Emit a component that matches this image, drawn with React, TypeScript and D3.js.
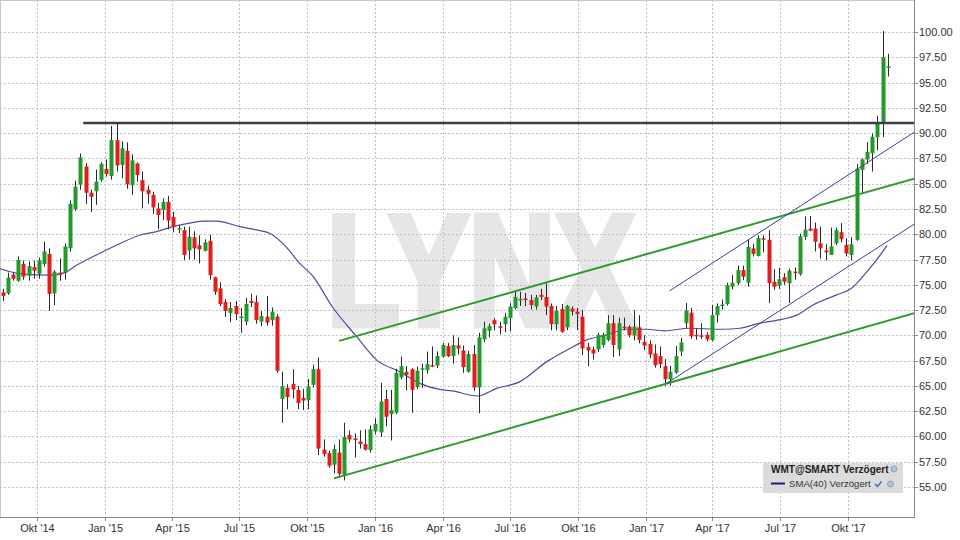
import React from 'react';
import * as d3 from 'd3';

// ---- DATA (weekly candles, Fridays from 2014-08-15) ----
const firstWeek = '2014-08-15';
const lastWeek = '2017-11-24';

const openV = [74.25,74.15,76.0,75.4,77.05,75.9,76.75,76.1,77.05,78.05,
74.15,76.2,76.2,78.6,82.5,84.9,86.7,84.1,84.25,85.35,
86.45,85.75,89.3,86.85,88.25,84.85,87.0,85.35,84.4,83.9,
82.55,82.4,83.2,81.7,80.5,80.4,78.4,79.7,78.9,78.35,
79.35,75.75,74.65,73.3,72.2,72.9,
71.75,71.35,73.4,73.3,71.35,71.85,71.5,71.85,63.7,64.8,
65.2,64.6,63.8,63.6,65.1,66.65,58.7,58.35,57.2,58.4,
56.2,60.15,59.8,59.5,59.25,58.65,60.5,60.4,63.7,62.2,
62.35,65.85,66.4,66.65,64.9,
66.6,66.55,67.05,67.0,67.9,68.95,67.95,69.0,68.5,66.4,
68.15,64.85,69.6,70.45,71.5,70.9,71.1,71.7,72.7,73.5,
73.65,73.5,72.85,74.0,73.8,72.9,71.1,72.6,70.8,72.65,
72.35,71.85,68.85,68.6,68.6,69.05,69.55,71.2,68.6,70.85,
70.85,70.0,70.8,
69.35,69.15,68.2,67.95,66.95,65.65,66.3,68.4,71.2,72.25,
70.05,70.0,70.05,69.55,72.0,72.95,73.1,74.8,75.15,76.45,
75.2,78.6,77.85,79.6,79.45,75.3,74.9,75.75,75.15,76.3,
76.05,79.75,80.55,80.55,79.1,78.4,77.95,79.1,80.2,78.95,
77.95,79.45,86.35,87.4,88.0,89.6,91.0,96.5];

const highV = [74.6,76.2,76.2,77.8,77.4,77.3,77.4,77.7,79.25,78.6,
76.45,77.6,79.1,83.35,85.3,88.0,87.05,84.4,86.4,87.1,
87.4,90.7,91.0,89.2,89.1,87.9,87.1,86.2,84.8,84.2,
83.1,83.55,83.8,82.2,80.9,80.75,80.75,80.3,79.9,79.5,
79.95,75.8,75.25,73.6,73.3,73.4,
72.7,73.7,74.1,73.95,72.4,73.9,72.75,72.1,66.4,65.15,
66.65,65.0,64.7,65.7,67.1,67.8,59.7,58.6,59.2,59.7,
61.35,60.6,60.3,60.6,60.7,61.1,61.8,65.3,64.6,64.6,
66.7,67.9,66.95,66.75,66.9,
67.2,68.4,68.9,68.4,69.25,69.25,70.0,69.8,69.0,68.45,
69.05,70.25,71.35,71.15,71.7,71.35,72.2,73.2,74.4,74.3,
74.2,74.0,74.0,74.6,75.15,73.15,72.9,73.1,73.0,72.85,
72.7,72.5,69.25,68.9,70.25,70.25,72.0,72.0,71.75,71.75,
71.0,72.5,72.0,
70.0,69.5,69.1,68.9,67.65,67.0,68.95,69.75,73.2,72.7,
70.65,71.2,70.3,73.0,73.15,73.55,75.2,75.95,76.9,76.9,
79.45,79.05,79.9,79.9,80.4,76.55,76.7,76.15,76.6,76.7,
80.05,81.75,81.8,81.15,80.75,79.0,80.65,80.65,81.1,79.6,
79.7,86.95,87.5,89.1,89.95,91.7,100.1,97.85];

const lowV = [73.4,74.0,75.4,75.3,75.5,75.4,75.6,75.6,76.8,72.4,
73.0,75.4,75.5,78.3,82.3,84.4,83.0,82.2,82.9,85.2,
85.7,85.4,86.2,85.55,84.5,83.9,85.2,82.55,83.0,82.0,
80.5,81.4,80.5,80.2,80.1,77.45,77.5,77.5,77.1,78.3,
75.5,74.0,72.9,71.8,71.3,71.5,
70.25,71.0,72.8,71.15,70.9,70.95,70.95,66.3,61.35,62.7,
63.75,62.7,62.6,62.7,64.85,58.16,58.0,56.9,56.35,55.9,
55.65,59.4,57.9,58.8,58.6,58.4,60.2,59.95,61.0,59.6,
62.2,65.65,64.55,62.35,64.7,
64.8,66.2,66.85,66.75,67.8,67.85,67.2,68.1,66.3,66.3,
64.5,62.3,69.35,69.8,70.5,70.1,70.3,70.4,72.55,72.9,
72.9,72.55,72.55,73.5,72.0,70.5,70.5,70.25,70.5,71.95,
70.5,68.05,66.95,67.6,68.35,68.8,69.4,67.85,67.95,70.5,
69.8,69.5,69.2,
68.55,67.75,66.8,66.75,65.0,65.0,66.2,67.95,70.7,69.65,
69.55,69.65,69.4,69.4,71.25,72.55,72.95,74.55,74.95,75.45,
74.8,77.8,77.8,78.2,73.2,74.5,74.6,75.0,73.2,75.5,
75.9,79.45,80.3,78.3,77.6,77.4,77.95,78.9,79.2,77.8,
77.4,79.35,84.05,86.95,86.2,88.3,89.6,95.6];

const closeV = [73.9,75.7,75.6,77.45,75.8,76.85,76.4,77.4,78.3,74.1,
76.3,76.0,78.8,83.0,84.7,87.6,84.1,83.7,85.2,86.95,
85.95,89.3,86.8,88.5,84.95,87.3,85.85,84.25,84.0,82.65,
81.9,83.2,81.35,80.7,80.6,77.95,79.75,78.6,78.5,79.2,
75.95,74.3,73.1,72.4,72.7,72.1,
71.85,73.1,73.2,71.5,71.9,71.25,72.35,66.5,64.95,63.9,
64.65,63.3,63.55,64.95,66.65,58.8,58.25,57.1,58.75,56.3,
59.95,59.7,59.65,59.25,58.7,60.7,61.25,63.45,61.95,62.6,
66.3,66.95,66.1,64.6,66.5,
66.75,67.15,66.95,67.95,69.05,67.95,69.05,68.7,66.85,68.15,
64.85,69.8,70.7,70.9,71.1,70.8,71.85,72.85,73.8,73.6,
73.5,73.0,73.75,73.8,72.85,71.1,72.45,70.35,72.9,72.35,
72.1,68.7,68.5,68.2,70.05,70.05,71.2,69.05,71.2,70.7,
70.0,70.85,69.55,
69.0,68.1,67.05,67.15,65.65,66.4,67.95,69.3,72.45,69.9,
69.95,69.9,69.6,72.0,72.9,73.05,74.95,75.2,76.45,75.8,
78.75,78.05,79.6,79.45,75.15,74.8,75.55,75.3,76.4,76.15,
79.8,80.45,80.35,79.25,78.6,78.2,78.8,80.4,79.5,78.1,
79.0,86.5,87.4,88.15,89.65,90.95,97.5,96.6];

// SMA(40)
const smaDates = ['2014-08-11','2014-09-07','2014-10-18','2014-11-07','2014-11-20','2014-12-24','2015-01-20','2015-02-16','2015-03-11','2015-04-02','2015-04-25','2015-05-14','2015-05-31','2015-07-02','2015-07-19','2015-08-11','2015-09-03','2015-09-21','2015-10-08','2015-11-04','2015-12-07','2016-01-03','2016-02-03','2016-03-01','2016-03-28','2016-04-14','2016-05-18','2016-06-13','2016-07-14','2016-08-20','2016-09-20','2016-10-13','2016-11-09','2016-12-06','2017-01-02','2017-01-26','2017-03-01','2017-04-15','2017-05-08','2017-06-04','2017-07-05','2017-07-24','2017-08-15','2017-09-16','2017-10-04','2017-10-27','2017-11-14','2017-11-23'];
const smaValues = [76.6,76.1,75.95,76.2,76.8,78.1,79.05,79.9,80.25,80.75,81.1,81.3,81.3,80.75,80.5,80.1,78.7,77.1,75.9,72.8,69.85,67.55,66.4,65.25,64.65,64.5,64.0,64.75,65.4,67.4,68.7,69.55,70.05,70.6,70.6,70.45,70.7,70.6,70.7,71.2,71.6,72.0,73.0,74.0,74.55,76.3,77.95,78.9];

// Drawn trend lines: [startDate, startPrice, endDate, endPrice]
const resistanceLine = ['2014-12-02', 91.0, '2017-12-30', 91.0] as const;
const greenChannel = [
  ['2015-11-13', 69.45, '2017-12-30', 85.5],
  ['2015-11-06', 55.85, '2017-12-30', 72.2],
] as const;
const blueChannel = [
  ['2017-02-02', 74.4, '2017-12-30', 90.1],
  ['2017-01-28', 65.2, '2017-12-30', 81.0],
] as const;

const yTicks = [55, 57.5, 60, 62.5, 65, 67.5, 70, 72.5, 75, 77.5, 80, 82.5, 85, 87.5, 90, 92.5, 95, 97.5, 100];
const xTickDates = ['2014-10-01','2015-01-01','2015-04-01','2015-07-01','2015-10-01','2016-01-01','2016-04-01','2016-07-01','2016-10-01','2017-01-01','2017-04-01','2017-07-01','2017-10-01'];
const xTickLabels = ["Okt '14","Jan '15","Apr '15","Jul '15","Okt '15","Jan '16","Apr '16","Jul '16","Okt '16","Jan '17","Apr '17","Jul '17","Okt '17"];

const legendTitle = 'WMT@SMART Verzögert';
const legendSeries = 'SMA(40) Verzögert';

// ---- LAYOUT ----
const PR = 914; // plot right
const PB = 517; // plot bottom
const parse = d3.timeParse('%Y-%m-%d');
const FONT = 'Liberation Sans, Arial, Helvetica, sans-serif';

export default function App() {
  const x = d3.scaleTime().domain([parse(firstWeek)!, parse(lastWeek)!]).range([2.7, 887.7]);
  const y = d3.scaleLinear().domain([55, 100]).range([487, 32]);
  const weeks = d3.timeFriday.range(parse(firstWeek)!, d3.timeDay.offset(parse(lastWeek)!, 1));
  const candles = openV.map((o, i) => ({ d: weeks[i], o, h: highV[i], l: lowV[i], c: closeV[i] }));

  const sma = smaDates.map((d, i) => [parse(d)!, smaValues[i]] as [Date, number]);
  const smaPath = d3.line<[Date, number]>().x(p => x(p[0])).y(p => y(p[1])).curve(d3.curveMonotoneX)(sma) || '';

  const seg = (s: readonly [string, number, string, number]) => ({
    x1: x(parse(s[0])!), y1: y(s[1]), x2: x(parse(s[2])!), y2: y(s[3]),
  });

  const green = '#22992a';
  const red = '#e21d1d';
  const bw = 4;

  return (
    <svg width={960} height={540} style={{ position: 'absolute', left: 0, top: 0, background: '#fff' }}>
      <defs>
        <clipPath id="plotClip"><rect x={0} y={0} width={PR} height={PB} /></clipPath>
      </defs>
      <rect x={0} y={0} width={960} height={540} fill="#fff" />
      {/* watermark */}
      <text x={327} y={324.5} fontFamily={FONT} fontWeight="bold" fontSize={158} fill="#e6e6e6"
        stroke="#e6e6e6" strokeWidth={7} strokeLinejoin="miter"
        textLength={308} lengthAdjust="spacingAndGlyphs">LYNX</text>
      {/* grid */}
      <g stroke="#c2c2c2" strokeDasharray="2,2" strokeWidth={1}>
        {yTicks.map(t => (
          <line key={'h' + t} x1={0} x2={PR} y1={Math.round(y(t)) + 0.5} y2={Math.round(y(t)) + 0.5} />
        ))}
        {xTickDates.map(d => {
          const xx = Math.round(x(parse(d)!)) + 0.5;
          return <line key={'v' + d} x1={xx} x2={xx} y1={0} y2={PB} />;
        })}
      </g>
      {/* frame */}
      <line x1={0} x2={PR} y1={0.5} y2={0.5} stroke="#c8c8c8" />
      <line x1={0.5} x2={0.5} y1={0} y2={PB} stroke="#c8c8c8" />
      <line x1={PR + 0.5} x2={PR + 0.5} y1={0} y2={PB + 1} stroke="#8a8a8a" />
      <line x1={0} x2={PR + 1} y1={PB + 0.5} y2={PB + 0.5} stroke="#8a8a8a" />

      <g clipPath="url(#plotClip)">
        {/* SMA */}
        <path d={smaPath} fill="none" stroke="#4d4d9e" strokeWidth={1.2} />
        {/* candles */}
        {candles.map((k, i) => {
          const cx = Math.round(x(k.d)) + 0.5;
          const up = k.c >= k.o;
          const top = y(Math.max(k.o, k.c));
          const bot = y(Math.min(k.o, k.c));
          return (
            <g key={i}>
              <line x1={cx} x2={cx} y1={y(k.h)} y2={y(k.l)} stroke="#2a2a2a" strokeWidth={1} />
              <rect x={cx - bw / 2} y={top} width={bw} height={Math.max(1.5, bot - top)} fill={up ? green : red} />
            </g>
          );
        })}
        {/* trend lines */}
        {(() => { const s = seg(resistanceLine); return <line {...s} stroke="#3d3d3d" strokeWidth={2.5} />; })()}
        {greenChannel.map((g, i) => <line key={'g' + i} {...seg(g)} stroke="#2e9a2e" strokeWidth={2} />)}
        {blueChannel.map((g, i) => <line key={'b' + i} {...seg(g)} stroke="#3f3f98" strokeWidth={1} />)}
      </g>

      {/* y axis */}
      {yTicks.map(t => (
        <g key={'yt' + t}>
          <line x1={PR} x2={PR + 4} y1={Math.round(y(t)) + 0.5} y2={Math.round(y(t)) + 0.5} stroke="#8a8a8a" />
          <text x={919} y={y(t) + 4} fontFamily={FONT} fontSize={11} fill="#333">{t.toFixed(2)}</text>
        </g>
      ))}
      {/* x axis */}
      {xTickDates.map((d, i) => {
        const xx = Math.round(x(parse(d)!)) + 0.5;
        return (
          <g key={'xt' + d}>
            <line x1={xx} x2={xx} y1={PB} y2={PB + 4} stroke="#8a8a8a" />
            <text x={xx} y={531.5} textAnchor="middle" fontFamily={FONT} fontSize={11} fill="#333">{xTickLabels[i]}</text>
          </g>
        );
      })}

      {/* legend */}
      <g>
        <rect x={763} y={463} width={140} height={30} fill="#d8d8d8" fillOpacity={0.9} />
        <text x={771} y={472.5} fontFamily={FONT} fontSize={10} fontWeight="bold" fill="#222">{legendTitle}</text>
        <circle cx={894} cy={469} r={3} fill="#a9c3dc" stroke="#7b9cbc" strokeWidth={0.8} />
        <line x1={771} x2={785} y1={483.5} y2={483.5} stroke="#1c1c80" strokeWidth={2} />
        <text x={789} y={487} fontFamily={FONT} fontSize={9.6} fill="#333">{legendSeries}</text>
        <path d="M875,484 L877.5,486.5 L881.5,481.5" fill="none" stroke="#3a6fc4" strokeWidth={1.5} />
        <circle cx={890.5} cy={484} r={3} fill="#a9c3dc" stroke="#7b9cbc" strokeWidth={0.8} />
      </g>
    </svg>
  );
}
